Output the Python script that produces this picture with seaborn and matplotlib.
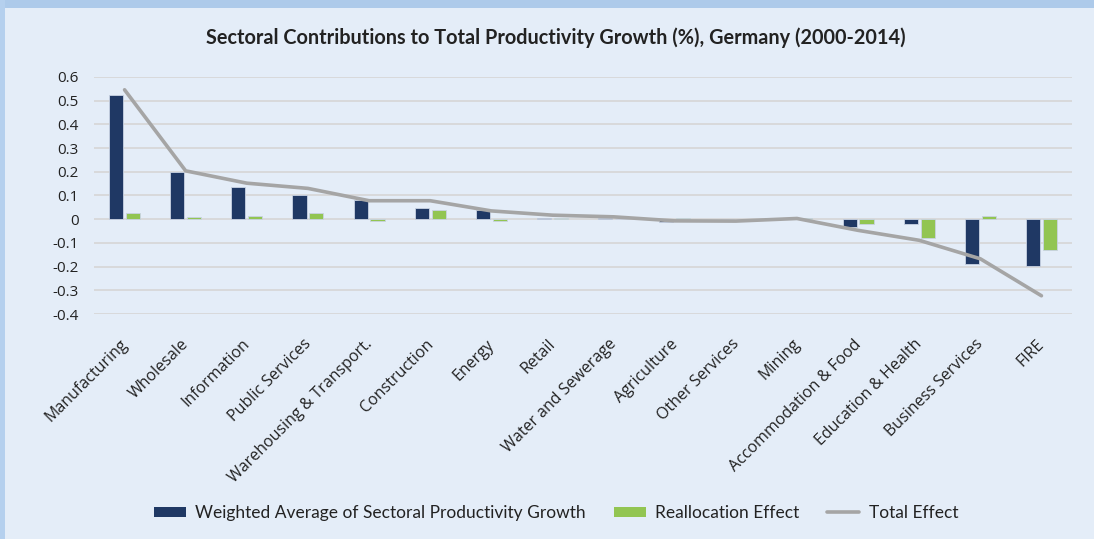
import matplotlib
matplotlib.use("Agg")
import matplotlib.pyplot as plt
import matplotlib.transforms as mtransforms
import seaborn as sns
import pandas as pd
from matplotlib.patches import Patch, Rectangle
from matplotlib.lines import Line2D

sectors = ["Manufacturing", "Wholesale", "Information", "Public Services",
           "Warehousing & Transport.", "Construction", "Energy", "Retail",
           "Water and Sewerage", "Agriculture", "Other Services", "Mining",
           "Accommodation & Food", "Education & Health", "Business Services", "FIRE"]
weighted = [0.525, 0.200, 0.137, 0.100, 0.080, 0.046, 0.040, 0.007,
            0.003, -0.012, 0.002, 0.007, -0.033, -0.020, -0.190, -0.197]
realloc = [0.026, 0.008, 0.014, 0.025, -0.008, 0.038, -0.006, 0.004,
           0.001, 0.003, 0.002, 0.006, -0.020, -0.078, 0.013, -0.128]
total = [0.546, 0.204, 0.152, 0.130, 0.078, 0.078, 0.035, 0.017,
         0.010, -0.007, -0.008, 0.003, -0.047, -0.089, -0.167, -0.323]
series_names = ["Weighted Average of Sectoral Productivity Growth", "Reallocation Effect"]
line_name = "Total Effect"
yticks = [0.6, 0.5, 0.4, 0.3, 0.2, 0.1, 0, -0.1, -0.2, -0.3, -0.4]
ytick_labels = ["0.6", "0.5", "0.4", "0.3", "0.2", "0.1", "0", "-0.1", "-0.2", "-0.3", "-0.4"]
title = "Sectoral Contributions to Total Productivity Growth (%), Germany (2000-2014)"

navy = "#1F3864"
green = "#92C552"
gray = "#A5A5A5"
bg = "#E4EDF8"

df = pd.DataFrame({
    "Sector": sectors * 2,
    "Value": weighted + realloc,
    "Series": [series_names[0]] * len(sectors) + [series_names[1]] * len(sectors),
})

sns.set_style("white")
plt.rcParams["font.family"] = ["Open Sans", "DejaVu Sans"]

fig = plt.figure(figsize=(10.94, 5.39), dpi=100)
fig.patch.set_facecolor(bg)
# frame bands
fig.patches.append(Rectangle((0, 1 - 8 / 539), 1, 8 / 539, transform=fig.transFigure,
                             facecolor="#ADCAEA", edgecolor="none", zorder=0))
fig.patches.append(Rectangle((0, 0), 5 / 1094, 1, transform=fig.transFigure,
                             facecolor="#B5D0EE", edgecolor="none", zorder=0))

ax = fig.add_axes([94 / 1094, (539 - 314) / 539, (1072 - 94) / 1094, (314 - 77) / 539])
ax.set_facecolor(bg)

sns.barplot(data=df, x="Sector", y="Value", hue="Series", order=sectors,
            hue_order=series_names, palette=[navy, green], width=0.55, gap=0.16,
            ax=ax, legend=False, saturation=1, edgecolor="#C9D3E3", linewidth=0.6)
sns.lineplot(x=sectors, y=total, sort=False, color=gray, linewidth=2.6, ax=ax,
             zorder=5)

ax.set_xlim(-0.5, len(sectors) - 0.5)
ax.set_ylim(-0.4, 0.6)
ax.set_yticks(yticks)
ax.set_yticklabels(ytick_labels, fontsize=11, color="#222222")
ax.yaxis.grid(True, color="#D6D6D6", linewidth=1.2)
ax.set_axisbelow(True)
for s in ax.spines.values():
    s.set_visible(False)
ax.tick_params(axis="y", length=0, pad=11)
ax.tick_params(axis="x", length=0, pad=16)
ax.set_xticks(range(len(sectors)))
ax.set_xticklabels(sectors, rotation=45, ha="right", rotation_mode="anchor",
                   fontsize=11.5, color="#222222")
offset = mtransforms.ScaledTranslation(-5 / 100, 0 / 100, fig.dpi_scale_trans)
for lab in ax.get_xticklabels():
    lab.set_transform(lab.get_transform() + offset)
ax.set_xlabel("")
ax.set_ylabel("")

fig.text(556 / 1094, 1 - 38 / 539, title, ha="center", va="center",
         fontsize=14.3, fontweight="bold", family=["Lato", "DejaVu Sans"], color="#222222")

handles = [Patch(facecolor=navy, edgecolor="none"),
           Patch(facecolor=green, edgecolor="none"),
           Line2D([0], [0], color=gray, linewidth=2.6)]
fig.legend(handles, series_names + [line_name], loc="center",
           bbox_to_anchor=(556 / 1094, 26 / 539), ncol=3, frameon=False,
           prop={"family": ["Lato", "DejaVu Sans"], "size": 12.5},
           handlelength=1.85, handleheight=0.55, handletextpad=0.55, columnspacing=1.6,
           labelcolor="#222222")

fig.savefig("out.png", dpi=100, facecolor=fig.get_facecolor())
